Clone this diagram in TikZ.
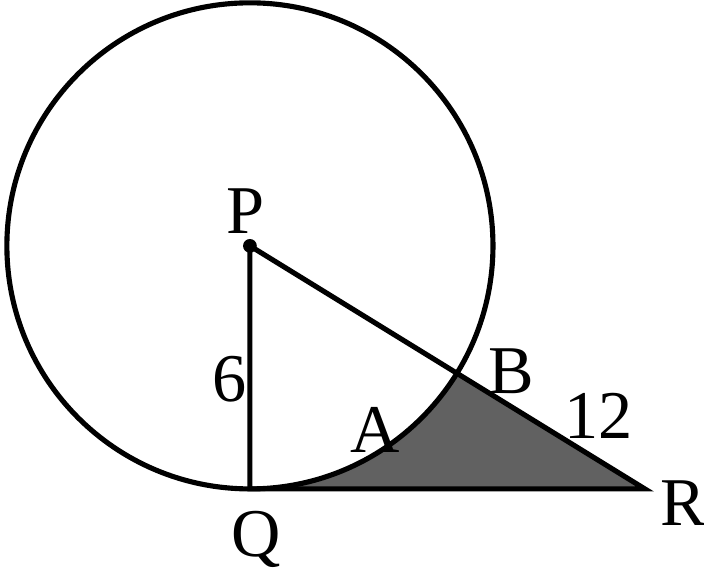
\documentclass[tikz,border=0pt]{standalone}
\usepackage{fontspec}
\setmainfont{Liberation Serif}
\usetikzlibrary{calc, positioning}

\begin{document}
\begin{tikzpicture}[x=0.5cm,y=0.5cm, line width=1.8pt,
  lbl/.style={font=\fontsize{24}{26}\selectfont, inner sep=1pt}]
\def\rad{6}
\useasboundingbox (-6.17,-8.25) rectangle (11.21,6.07);
\coordinate (P) at (0,0);
\coordinate (Q) at (0,-\rad);
\coordinate (R) at (9.75,-6);
\coordinate (B) at ($(P)!\rad cm/2!(R)$);

% shaded region
\fill[black!62] (Q) arc[start angle=-90, end angle=-31.6, radius=\rad] -- (R) -- cycle;

\draw (P) circle (\rad);
\draw (P) -- (Q) -- (R) -- cycle;
\fill[black] (P) circle (0.17);

\node[lbl] (labP) at (-0.12,0.85) {P};
\node[lbl] (labQ) at (0.15,-7.25) {Q};
\node[lbl] (labR) at (10.7,-6.35) {R};
\node[lbl] (labA) at (3.1,-4.55) {A};
\node[lbl] (labB) at (6.45,-3.1) {B};
\node[lbl] (lab6) at (-0.5,-3.3) {6};
\node[lbl] (lab12) at (8.6,-4.2) {12};
\end{tikzpicture}
\end{document}
